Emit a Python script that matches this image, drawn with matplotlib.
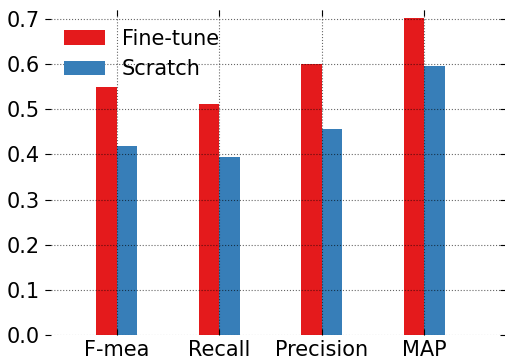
import numpy as np
import matplotlib
matplotlib.use("Agg")
import matplotlib.pyplot as plt

categories = ["F-mea", "Recall", "Precision", "MAP"]
fine_tune = [0.549, 0.512, 0.601, 0.703]
scratch = [0.419, 0.395, 0.457, 0.595]

width = 0.2
x = np.arange(len(categories))

fig = plt.figure(figsize=(5.06, 3.6), dpi=100)
ax = fig.add_axes([45 / 506, 25 / 360, 461 / 506, 325 / 360])

ax.bar(x - width / 2, fine_tune, width, color="#e41a1c", label="Fine-tune", linewidth=0)
ax.bar(x + width / 2, scratch, width, color="#377eb8", label="Scratch", linewidth=0)

ax.set_xticks(x)
ax.set_xticklabels(categories)
ax.set_yticks(np.arange(0, 0.71, 0.1))
ax.set_xlim(-0.7, 3.8)
ax.set_ylim(0, 0.72)
ax.tick_params(labelsize=15, direction="in", top=True, right=True, length=4, color="k")
ax.grid(True, color="k", linestyle=":", linewidth=0.8, alpha=0.6)
for s in ax.spines.values():
    s.set_visible(False)

ax.legend(loc="upper left", frameon=False, fontsize=15, bbox_to_anchor=(0.0, 1.0))

fig.savefig("out.png", dpi=100)
